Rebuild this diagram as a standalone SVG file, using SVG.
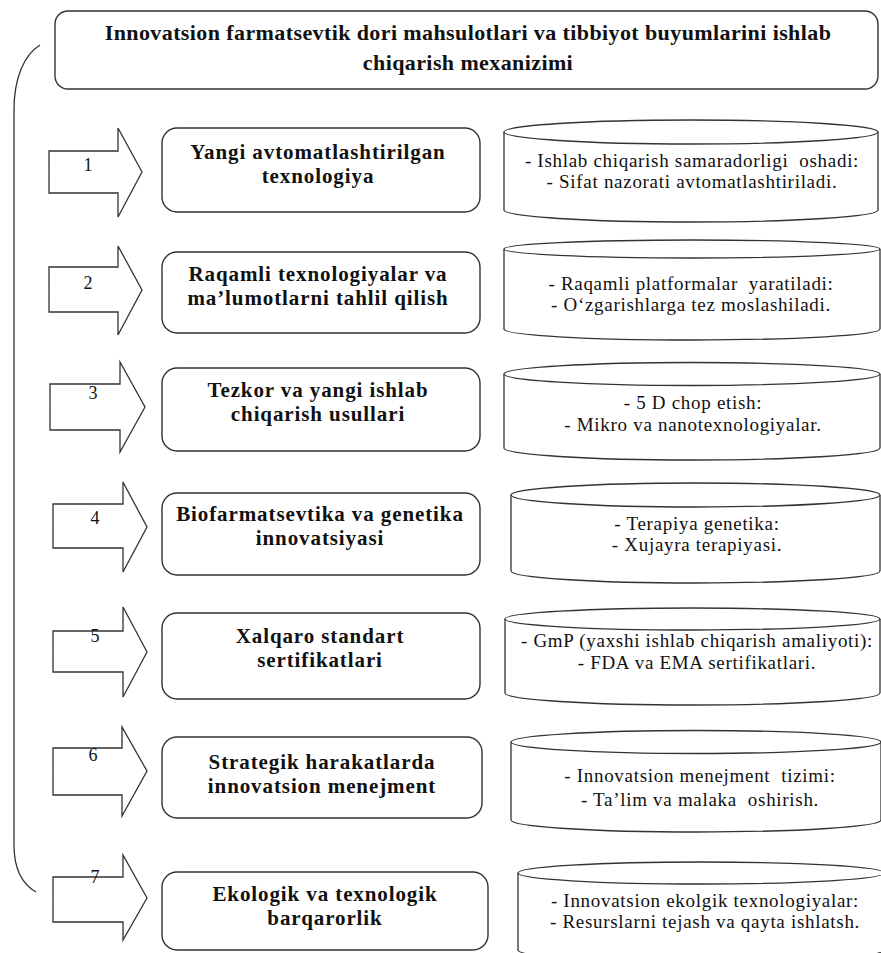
<svg xmlns="http://www.w3.org/2000/svg" width="881" height="953" viewBox="0 0 881 953">
<style>
.bx{fill:#fff;stroke:#333;stroke-width:1.4}
.ar{fill:#fff;stroke:#333;stroke-width:1.3;stroke-linejoin:miter}
.cy{fill:#fff;stroke:#333;stroke-width:1.3}
.br{fill:none;stroke:#333;stroke-width:1.3}
.tt{font-family:"Liberation Serif","Times New Roman",serif;font-weight:bold;font-size:22px;letter-spacing:0.4px;fill:#111;text-anchor:middle}
.bt{font-family:"Liberation Serif","Times New Roman",serif;font-weight:bold;font-size:21px;letter-spacing:0.9px;fill:#111;text-anchor:middle}
.ct{font-family:"Liberation Serif","Times New Roman",serif;font-size:19px;letter-spacing:0.7px;fill:#111;text-anchor:middle;white-space:pre}
.nt{font-family:"Liberation Serif","Times New Roman",serif;font-size:18px;fill:#111;text-anchor:middle}
</style>
<rect width="881" height="953" fill="#fff"/>
<g id="connectors">
<path class="br" d="M40 45 C24 55 14 78 14 110 L14 845 C14 868 22 884 36 892"/>
<path class="ar" d="M49 151 H118 V128 L142 172 L118 217 V193 H49 Z"/>
<path class="ar" d="M49 267 H118 V246 L142 290 L118 335 V312 H49 Z"/>
<path class="ar" d="M50 384 H120 V362 L145 407 L120 452 V430 H50 Z"/>
<path class="ar" d="M53 504 H123 V482 L147 527 L123 572 V548 H53 Z"/>
<path class="ar" d="M53 631 H123 V607 L147 652 L123 697 V672 H53 Z"/>
<path class="ar" d="M53 748 H122 V727 L147 771 L122 816 V795 H53 Z"/>
<path class="ar" d="M53 877 H123 V855 L147 898 L123 940 V922 H53 Z"/>
<text class="nt" x="88" y="171">1</text>
<text class="nt" x="88" y="289">2</text>
<text class="nt" x="93" y="399">3</text>
<text class="nt" x="95" y="524">4</text>
<text class="nt" x="95" y="642">5</text>
<text class="nt" x="93" y="761">6</text>
<text class="nt" x="95" y="883">7</text>
</g>
<g id="title">
<rect class="bx" x="55" y="11" width="823" height="78" rx="13"/>
<text class="tt" x="468" y="40">Innovatsion farmatsevtik dori mahsulotlari va tibbiyot buyumlarini ishlab</text>
<text class="tt" x="468" y="70">chiqarish mexanizimi</text>
</g>
<g id="node1">
<rect class="bx" x="162" y="128" width="318" height="84" rx="15"/>
<text class="bt" x="318" y="159">Yangi avtomatlashtirilgan</text>
<text class="bt" x="318" y="183">texnologiya</text>
</g>
<g id="node2">
<rect class="bx" x="162" y="252" width="318" height="81" rx="15"/>
<text class="bt" x="318" y="281">Raqamli texnologiyalar va</text>
<text class="bt" x="318" y="305">ma’lumotlarni tahlil qilish</text>
</g>
<g id="node3">
<rect class="bx" x="162" y="368" width="318" height="83" rx="15"/>
<text class="bt" x="318" y="397">Tezkor va yangi ishlab</text>
<text class="bt" x="318" y="421">chiqarish usullari</text>
</g>
<g id="node4">
<rect class="bx" x="162" y="493" width="318" height="82" rx="15"/>
<text class="bt" x="320" y="521">Biofarmatsevtika va genetika</text>
<text class="bt" x="320" y="545">innovatsiyasi</text>
</g>
<g id="node5">
<rect class="bx" x="162" y="613" width="318" height="86" rx="15"/>
<text class="bt" x="320" y="643">Xalqaro standart</text>
<text class="bt" x="320" y="667">sertifikatlari</text>
</g>
<g id="node6">
<rect class="bx" x="162" y="737" width="320" height="81" rx="15"/>
<text class="bt" x="322" y="769">Strategik harakatlarda</text>
<text class="bt" x="322" y="793">innovatsion menejment</text>
</g>
<g id="node7">
<rect class="bx" x="162" y="872" width="326" height="78" rx="15"/>
<text class="bt" x="325" y="901">Ekologik va texnologik</text>
<text class="bt" x="325" y="925">barqarorlik</text>
</g>
<g id="cyl1">
<path class="cy" d="M504 132 V210 A187 12 0 0 0 878 210 V132"/>
<ellipse class="cy" cx="691" cy="132" rx="187" ry="12"/>
<text class="ct" x="692" y="167">- Ishlab chiqarish samaradorligi  oshadi:</text>
<text class="ct" x="692" y="188">- Sifat nazorati avtomatlashtiriladi.</text>
</g>
<g id="cyl2">
<path class="cy" d="M504 249 V329 A188 11 0 0 0 880 329 V249"/>
<ellipse class="cy" cx="692" cy="249" rx="188" ry="9"/>
<text class="ct" x="691" y="290">- Raqamli platformalar  yaratiladi:</text>
<text class="ct" x="691" y="311">- O‘zgarishlarga tez moslashiladi.</text>
</g>
<g id="cyl3">
<path class="cy" d="M504 374 V448 A188 12 0 0 0 880 448 V374"/>
<ellipse class="cy" cx="692" cy="374" rx="188" ry="11.5"/>
<text class="ct" x="693" y="409">- 5 D chop etish:</text>
<text class="ct" x="693" y="431">- Mikro va nanotexnologiyalar.</text>
</g>
<g id="cyl4">
<path class="cy" d="M511 495 V571 A184.5 12 0 0 0 880 571 V495"/>
<ellipse class="cy" cx="695.5" cy="495" rx="184.5" ry="12"/>
<text class="ct" x="697" y="530">- Terapiya genetika:</text>
<text class="ct" x="697" y="551">- Xujayra terapiyasi.</text>
</g>
<g id="cyl5">
<path class="cy" d="M505 619 V693 A187.5 12 0 0 0 880 693 V619"/>
<ellipse class="cy" cx="692.5" cy="619" rx="187.5" ry="11"/>
<text class="ct" x="697" y="647">- GmP (yaxshi ishlab chiqarish amaliyoti):</text>
<text class="ct" x="697" y="669">- FDA va EMA sertifikatlari.</text>
</g>
<g id="cyl6">
<path class="cy" d="M511 742 V820 A185 12 0 0 0 881 820 V742"/>
<ellipse class="cy" cx="696" cy="742" rx="185" ry="11.5"/>
<text class="ct" x="700" y="782">- Innovatsion menejment  tizimi:</text>
<text class="ct" x="700" y="806">- Ta’lim va malaka  oshirish.</text>
</g>
<g id="cyl7">
<path class="cy" d="M518 873 V950 A183 12 0 0 0 884 950 V873"/>
<ellipse class="cy" cx="701" cy="873" rx="183" ry="11"/>
<text class="ct" x="705" y="907">- Innovatsion ekolgik texnologiyalar:</text>
<text class="ct" x="705" y="928">- Resurslarni tejash va qayta ishlatsh.</text>
</g>
</svg>
